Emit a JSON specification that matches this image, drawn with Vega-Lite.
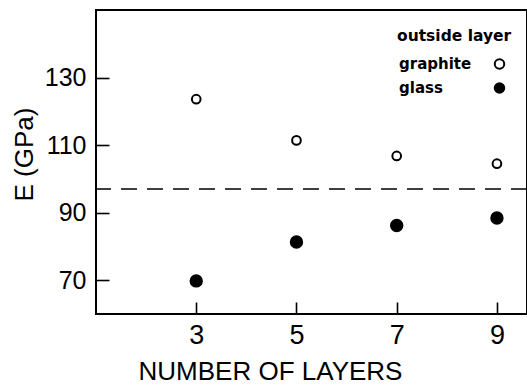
{
  "$schema": "https://vega.github.io/schema/vega-lite/v6.json",
  "width": 431,
  "height": 304,
  "autosize": {"type": "none"},
  "padding": {"left": 96, "top": 10, "right": 0, "bottom": 71},
  "background": "white",
  "config": {
    "view": {"stroke": "black", "strokeWidth": 2},
    "font": "Liberation Sans"
  },
  "datasets": {
    "points": [
      {"layers": 3, "E": 123.6, "outside": "graphite"},
      {"layers": 5, "E": 111.4, "outside": "graphite"},
      {"layers": 7, "E": 106.8, "outside": "graphite"},
      {"layers": 9, "E": 104.5, "outside": "graphite"},
      {"layers": 3, "E": 69.8, "outside": "glass"},
      {"layers": 5, "E": 81.3, "outside": "glass"},
      {"layers": 7, "E": 86.2, "outside": "glass"},
      {"layers": 9, "E": 88.4, "outside": "glass"}
    ]
  },
  "encoding": {
    "x": {
      "field": "layers", "type": "quantitative",
      "scale": {"domain": [1, 9.6], "nice": false, "zero": false},
      "axis": {
        "values": [3, 5, 7, 9], "grid": false, "domain": false,
        "tickSize": -12, "tickColor": "black", "tickWidth": 1.6,
        "labelFontSize": 27, "labelColor": "black", "labelPadding": 20,
        "title": "NUMBER OF LAYERS", "titleFontSize": 26, "titleFontWeight": "normal",
        "titleColor": "black", "titleX": 174, "titleY": 65, "titleBaseline": "alphabetic"
      }
    },
    "y": {
      "field": "E", "type": "quantitative",
      "scale": {"domain": [60, 150], "nice": false, "zero": false},
      "title": "E (GPa)",
      "axis": {
        "values": [70, 90, 110, 130], "grid": false, "domain": false,
        "tickSize": -13, "tickColor": "black", "tickWidth": 1.6,
        "labelFontSize": 25, "labelColor": "black", "labelPadding": 23,
        "titleFontSize": 26, "titleFontWeight": "normal", "titleColor": "black",
        "titleX": -64, "titleY": 144, "titleBaseline": "alphabetic", "titleAlign": "center"
      }
    }
  },
  "layer": [
    {
      "data": {"values": [{"E": 97}]},
      "mark": {"type": "rule", "strokeDash": [16, 10], "strokeWidth": 1.6, "color": "black"},
      "encoding": {
        "x": null,
        "y": {"field": "E", "type": "quantitative"}
      }
    },
    {
      "data": {"name": "points"},
      "transform": [{"filter": "datum.outside === 'graphite'"}],
      "mark": {"type": "point", "shape": "circle", "filled": true, "stroke": "black", "strokeWidth": 2, "opacity": 1, "size": 75},
      "encoding": {
        "fill": {
          "field": "outside", "type": "nominal",
          "scale": {"domain": ["graphite", "glass"], "range": ["white", "black"]},
          "legend": {
            "orient": "none", "legendX": 301, "legendY": 19,
            "title": "outside layer", "titleFont": "DejaVu Sans", "titleFontSize": 15.5,
            "titleFontWeight": "bold", "titleColor": "black", "titlePadding": 12,
            "labelFont": "DejaVu Sans", "labelFontSize": 15, "labelFontWeight": "bold",
            "labelColor": "black", "symbolOffset": 95, "labelOffset": -108, "labelAlign": "left",
            "symbolType": "circle", "symbolStrokeColor": "black", "symbolStrokeWidth": 2, "symbolSize": 90, "rowPadding": 5
          }
        }
      }
    },
    {
      "data": {"name": "points"},
      "transform": [{"filter": "datum.outside === 'glass'"}],
      "mark": {"type": "point", "shape": "circle", "filled": true, "stroke": "black", "strokeWidth": 2, "opacity": 1, "size": 130},
      "encoding": {
        "fill": {"field": "outside", "type": "nominal"}
      }
    }
  ]
}
